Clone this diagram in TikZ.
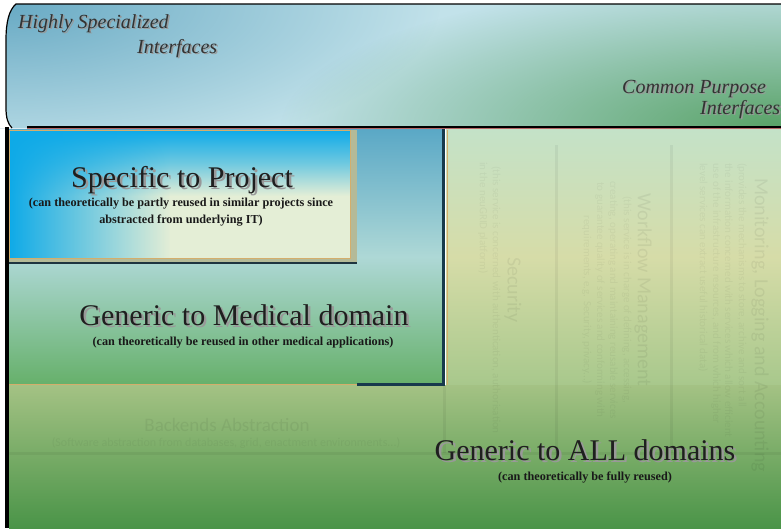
\documentclass[tikz,border=0pt]{standalone}
\usepackage{fontspec}
\setmainfont{Liberation Serif}
\newfontfamily\faintsans{Carlito}
\usetikzlibrary{fadings}
\tikzfading[name=myradial, inner color=transparent!0, outer color=transparent!100]
\tikzfading[name=myright, left color=transparent!0, right color=transparent!100]
\definecolor{topA}{HTML}{68AAC4}
\definecolor{topB}{HTML}{C2E2EA}
\definecolor{topC}{HTML}{58A266}
\definecolor{medA}{HTML}{5AA8C6}
\definecolor{medB}{HTML}{AED8D6}
\definecolor{medC}{HTML}{66B06A}
\definecolor{rA}{HTML}{C4E2C8}
\definecolor{rB}{HTML}{D6DCA8}
\definecolor{rC}{HTML}{A8C88C}
\definecolor{bA}{HTML}{A4C284}
\definecolor{bC}{HTML}{4A9448}
\definecolor{spA}{HTML}{0EAAE8}
\definecolor{spC}{HTML}{E4EED6}
\definecolor{rimC}{HTML}{B4BA98}
\definecolor{tanline}{HTML}{D4AE6C}
\definecolor{navyline}{HTML}{173A4C}
\definecolor{darkline}{HTML}{1E3440}
\definecolor{redline}{HTML}{B86868}
\newcommand{\shadowtext}[2]{\makebox[0pt][l]{\kern#1\raisebox{-#1}{\color{black!40}#2}}#2}
\begin{document}
\begin{tikzpicture}[x=1pt,y=-1pt,
  bigtitle/.style={font=\fontsize{30}{33}\selectfont, text=black!88, inner sep=0pt},
  subtitle/.style={font=\bfseries\fontsize{12.2}{16}\selectfont, text=black!90, inner sep=0pt, align=center},
  cornerlabel/.style={font=\itshape\fontsize{20}{22}\selectfont, text=black!80, inner sep=0pt},
  faintbig/.style={font=\faintsans\fontsize{20}{22}\selectfont, text=black, text opacity=0.06, inner sep=0pt},
  faintsmall/.style={font=\faintsans\fontsize{11}{13}\selectfont, text=black, text opacity=0.045, inner sep=0pt},
  colsep/.style={draw=black, draw opacity=0.05, line width=3},
]
\useasboundingbox (0,0) rectangle (781,528);
\fill[white] (0,0) rectangle (781,528);

% top band
\begin{scope}
  \clip (0,4) rectangle (781,128);
  \fill[topB] (0,4) rectangle (781,128);
  \fill[topA, path fading=myradial] (0,4) ellipse (440 and 160);
  \fill[topC, path fading=myradial] (781,128) ellipse (500 and 150);
\end{scope}
\fill[white] (0,0) -- (16,0) -- (16,4) .. controls (9,10) and (6,22) .. (6,40) -- (6,108) .. controls (6,118) and (8,124) .. (12,128) -- (0,128) -- cycle;
\draw[line width=1.2] (781,4) -- (16,4) .. controls (9,10) and (6,22) .. (6,40) -- (6,108) .. controls (6,118) and (8,124) .. (12,128);

% main regions
\shade[top color=medA, bottom color=medC, middle color=medB] (9,129) rectangle (444,385);
\shade[top color=rA, bottom color=rC, middle color=rB] (446,129) rectangle (781,385);
\shade[top color=bA, bottom color=bC] (9,385) rectangle (781,528);

% column separators and faint lines
\draw[colsep] (556,145) -- (556,453);
\draw[colsep] (671,145) -- (671,453);
\draw[colsep] (444,386) -- (444,453);
\draw[colsep] (9,453) -- (781,453);

% faint texts
\node[faintbig, rotate=-90] (sec) at (513,290) {Security};
\node[faintsmall, rotate=-90] (sec1) at (496,300) {(this service is concerned with authentication, authorisation};
\node[faintsmall, rotate=-90] (sec2) at (483,218) {in the neuGRID platform)};
\node[faintbig, rotate=-90] (wf) at (643,290) {Workflow Management};
\node[faintsmall, rotate=-90] (wf1) at (627,300) {(this service is in charge of defining, accessing,};
\node[faintsmall, rotate=-90] (wf2) at (613,300) {creating, operating and maintaining reusable services};
\node[faintsmall, rotate=-90] (wf3) at (600,300) {to guarantee quality of services and conforming with};
\node[faintsmall, rotate=-90] (wf4) at (587,300) {requirements, e.g. Security, privacy...)};
\node[faintbig, rotate=-90, anchor=west] (mon) at (760,178) {Monitoring, Logging and Accounting};
\node[faintsmall, rotate=-90, anchor=west] (mon1) at (742,163) {(provides the mechanisms to store, archive and sort all};
\node[faintsmall, rotate=-90, anchor=west] (mon2) at (729,163) {the information concerned with services which allow efficient};
\node[faintsmall, rotate=-90, anchor=west] (mon3) at (716,163) {use of the infrastructure resources, and from which higher};
\node[faintsmall, rotate=-90, anchor=west] (mon4) at (703,163) {level services can extract useful historical data)};
\node[faintbig, font=\faintsans\fontsize{19}{21}\selectfont] (be) at (227,425) {Backends Abstraction};
\node[faintsmall, font=\faintsans\fontsize{12}{14}\selectfont] (be1) at (226,443) {(Software abstraction from databases, grid, enactment environments...)};

% specific box
\fill[rimC] (9,130) rectangle (357,262);
\fill[spC] (9,130) rectangle (350,258);
\shade[top color=spA, bottom color=spC, middle color=spA!55!spC] (9,130) rectangle (350,196);
\fill[spA, path fading=myright] (9,130) rectangle (170,258);
\draw[tanline, line width=0.8] (9,130) rectangle (350,258);
\draw[darkline, line width=2] (9,263) -- (357,263);

% borders
\draw[navyline, line width=3] (443,129) -- (443,384) -- (357,384);
\draw[tanline, line width=1.5] (9,384.5) -- (357,384.5);
\draw[tanline, line width=1] (447,130) -- (447,385);
\draw[line width=2] (27,127) -- (781,127);
\draw[redline, line width=0.6] (27,128.6) -- (781,128.6);
\draw[line width=4] (7,127) -- (7,528);

% corner labels
\node[cornerlabel, anchor=base west] (hs) at (18,28) {\shadowtext{1.5pt}{Highly Specialized}};
\node[cornerlabel, anchor=base west] (hsi) at (137,53) {\shadowtext{1.5pt}{Interfaces}};
\node[cornerlabel, anchor=base west] (cp) at (622,93) {\shadowtext{1.5pt}{Common Purpose}};
\node[cornerlabel, anchor=base west] (cpi) at (700,114) {\shadowtext{1.5pt}{Interfaces}};

% titles
\node[bigtitle, anchor=base] (sp) at (182,187) {\shadowtext{2.5pt}{Specific to Project}};
\node[subtitle, anchor=base] (spsub1) at (181,206) {(can theoretically be partly reused in similar projects since};
\node[subtitle, anchor=base] (spsub2) at (181,223) {abstracted from underlying IT)};

\node[bigtitle, anchor=base] (med) at (244,325) {\shadowtext{2.5pt}{Generic to Medical domain}};
\node[subtitle, anchor=base] (medsub) at (243,345) {(can theoretically be reused in other medical applications)};

\node[bigtitle, anchor=base] (all) at (585,460) {\shadowtext{2.5pt}{Generic to ALL domains}};
\node[subtitle, anchor=base] (allsub) at (585,480) {(can theoretically be fully reused)};
\end{tikzpicture}
\end{document}
